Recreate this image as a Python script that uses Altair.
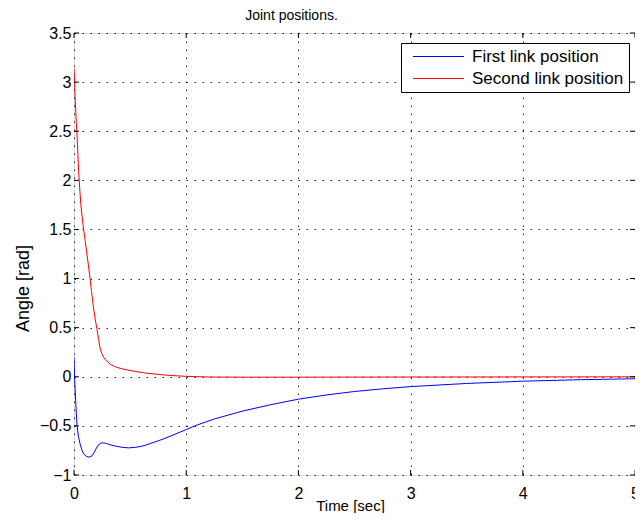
import altair as alt
import pandas as pd

# ---- data ----
t_first = [0, 0.005, 0.015, 0.027, 0.04, 0.056, 0.07, 0.086, 0.1, 0.115, 0.136,
           0.16, 0.18, 0.2, 0.22, 0.24, 0.263, 0.29, 0.33, 0.38, 0.43, 0.485,
           0.55, 0.6, 0.65, 0.7, 0.75, 0.8, 0.9, 1.0, 1.1, 1.25, 1.5, 1.75,
           2.0, 2.25, 2.5, 2.75, 3.0, 3.5, 4.0, 4.5, 5.0]
first_vals = [0.2, 0.0, -0.25, -0.5, -0.61, -0.69, -0.745, -0.785, -0.80, -0.813, -0.818,
              -0.805, -0.77, -0.725, -0.69, -0.675, -0.672, -0.68, -0.695, -0.708, -0.718, -0.724,
              -0.718, -0.708, -0.692, -0.672, -0.652, -0.632, -0.585, -0.537, -0.49, -0.43, -0.35, -0.285,
              -0.228, -0.185, -0.15, -0.123, -0.10, -0.068, -0.045, -0.03, -0.02]

t_second = [0, 0.01, 0.02, 0.027, 0.041, 0.05, 0.062, 0.08, 0.1, 0.12, 0.139, 0.155,
            0.174, 0.19, 0.204, 0.219, 0.233, 0.248, 0.263, 0.28, 0.293, 0.322, 0.36,
            0.4, 0.44, 0.5, 0.55, 0.65, 0.75, 0.85, 1.0, 1.2, 1.5, 2.0, 2.5, 3.0,
            3.5, 4.0, 4.5, 5.0]
second_vals = [3.14, 2.85, 2.6, 2.46, 2.1, 1.93, 1.74, 1.55, 1.38, 1.21, 1.04, 0.88,
               0.70, 0.58, 0.49, 0.38, 0.29, 0.235, 0.20, 0.175, 0.16, 0.128, 0.105,
               0.09, 0.077, 0.064, 0.054, 0.036, 0.024, 0.014, 0.004, -0.002, -0.004, -0.004, -0.003, -0.002,
               -0.002, -0.001, -0.001, 0.0]

series_names = ["First link position", "Second link position"]
series_colors = ["#0000ff", "#ff0000"]

x_ticks = [0, 1, 2, 3, 4, 5]
y_ticks = [-1, -0.5, 0, 0.5, 1, 1.5, 2, 2.5, 3, 3.5]

df1 = pd.DataFrame({"t": t_first, "v": first_vals, "s": series_names[0]})
df2 = pd.DataFrame({"t": t_second, "v": second_vals, "s": series_names[1]})
dfx = pd.DataFrame({"x": x_ticks})
dfy = pd.DataFrame({"y": y_ticks})

W, H = 561, 442
FONT = "Liberation Sans"

xscale = alt.Scale(domain=[0, 5], nice=False, zero=False)
yscale = alt.Scale(domain=[-1, 3.5], nice=False, zero=False)
color = alt.Color("s:N", scale=alt.Scale(domain=series_names, range=series_colors),
                  legend=alt.Legend(title=None, orient="none", legendX=327, legendY=10,
                                    symbolType="M-3.643,0H3.643", symbolSize=196,
                                    symbolStrokeWidth=1, symbolOffset=24, labelOffset=25,
                                    labelFontSize=17, labelFont=FONT, labelColor="black",
                                    fillColor="white", strokeColor="black", padding=5,
                                    rowPadding=4))

xaxis = alt.Axis(values=x_ticks, format="d", title="Time [sec]", grid=True, gridDash=[1.5, 6.5],
                 gridColor="#222", gridOpacity=1, domain=False, ticks=False,
                 labelFontSize=16, labelFont=FONT, labelColor="black", labelPadding=10,
                 titleFont=FONT, titleFontSize=15, titleFontWeight="normal", titleColor="black",
                 titleX=276, titleY=35, titleBaseline="alphabetic", titleAnchor="middle",
                 labelFlush=False)
yaxis = alt.Axis(values=y_ticks, format="~g", title="Angle [rad]", grid=True, gridDash=[1.5, 6.5],
                 gridColor="#222", gridOpacity=1, domain=False, ticks=False,
                 labelFontSize=16, labelFont=FONT, labelColor="black", labelPadding=3,
                 titleFont=FONT, titleFontSize=18, titleFontWeight="normal", titleColor="black",
                 titleX=-46, titleY=255, titleBaseline="alphabetic", titleAnchor="middle",
                 titleAngle=270)

base = alt.Chart(df1).mark_line(strokeWidth=1, clip=True).encode(
    x=alt.X("t:Q", scale=xscale, axis=xaxis),
    y=alt.Y("v:Q", scale=yscale, axis=yaxis),
    color=color,
)
red = alt.Chart(df2).mark_line(strokeWidth=1, clip=True).encode(
    x=alt.X("t:Q", scale=xscale),
    y=alt.Y("v:Q", scale=yscale),
    color=color,
)

tk = dict(color="black", strokeWidth=1)
xt_bot = alt.Chart(dfx).mark_rule(**tk).encode(x=alt.X("x:Q", scale=xscale), y=alt.value(H), y2=alt.value(H - 5))
xt_top = alt.Chart(dfx).mark_rule(**tk).encode(x=alt.X("x:Q", scale=xscale), y=alt.value(0), y2=alt.value(5))
yt_left = alt.Chart(dfy).mark_rule(**tk).encode(y=alt.Y("y:Q", scale=yscale), x=alt.value(0), x2=alt.value(5))
yt_right = alt.Chart(dfy).mark_rule(**tk).encode(y=alt.Y("y:Q", scale=yscale), x=alt.value(W), x2=alt.value(W - 5))

chart = alt.layer(base, red, xt_bot, xt_top, yt_left, yt_right).properties(
    width=W, height=H,
    title=alt.TitleParams("Joint positions.", font=FONT, fontSize=14, fontWeight="normal",
                          color="black", anchor="middle", dx=-63, dy=11, offset=2, baseline="alphabetic"),
    autosize=alt.AutoSizeParams(type="none"),
    padding={"left": 66, "top": 25, "right": 0, "bottom": 38},
).configure_view(stroke="black", strokeWidth=1).configure(background="white")

chart.save("out.html", embed_options={"renderer": "svg", "actions": False})
